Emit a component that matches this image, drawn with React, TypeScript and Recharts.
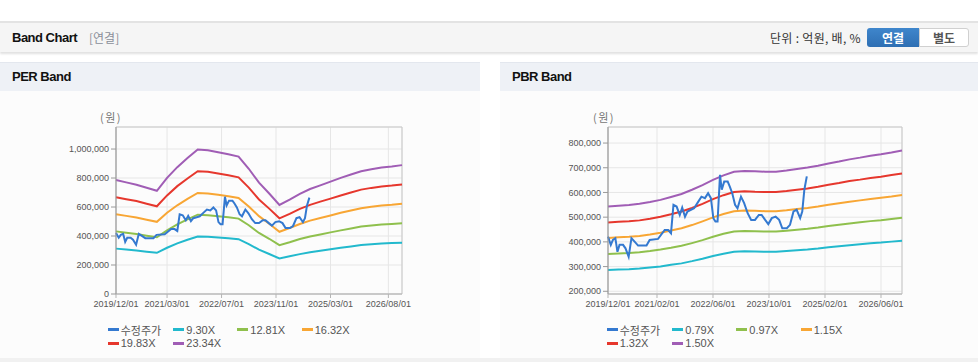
import React from 'react';
import { LineChart, Line, XAxis, YAxis, CartesianGrid, ReferenceArea } from 'recharts';

// ---- shared x positions (month index from 2019/12) ----
const bandIdx = [0, 3, 6, 9, 12, 15, 18, 21, 24, 27, 30, 33, 36, 39, 42, 45, 48, 51, 54, 57, 60, 63, 66, 69, 72, 75, 78, 81, 84];

// ---- 수정주가 (adjusted price) ----
const priceIdx = [0, 0.8, 1.4, 2.1, 2.7, 3.3, 4.3, 5, 5.9, 6.7, 7.6, 8.6, 11, 11.9, 14.3, 16.2, 17.2, 18, 18.7, 19.6, 20.5, 21.2, 22, 22.7, 23.7, 24.6, 25.8, 26.7, 27.7, 28.6, 29.4, 30.1, 30.7, 31.3, 32, 32.5, 33.2, 34.2, 34.8, 35.5, 36.3, 37, 38, 38.9, 39.9, 40.9, 42, 43.1, 43.9, 44.9, 45.8, 46.8, 47.9, 48.9, 49.8, 51.1, 52, 53, 53.9, 54.9, 55.5, 56.1, 56.8];
const priceVal = [421000, 388000, 408000, 415000, 360000, 388000, 388000, 374000, 340000, 415000, 401000, 385000, 385000, 408000, 412000, 448000, 448000, 435000, 550000, 543000, 509000, 539000, 502000, 523000, 530000, 536000, 563000, 583000, 577000, 597000, 577000, 496000, 482000, 482000, 671000, 611000, 644000, 644000, 624000, 597000, 550000, 536000, 583000, 557000, 516000, 489000, 489000, 509000, 509000, 489000, 472000, 496000, 502000, 489000, 455000, 455000, 469000, 523000, 530000, 496000, 523000, 611000, 665000];

// ---- PER bands ----
const per930 = [313000, 307000, 300000, 292000, 284000, 319000, 349000, 374000, 397000, 395000, 390000, 384000, 378000, 344000, 306000, 276000, 245000, 260000, 275000, 288000, 299000, 309000, 319000, 328000, 338000, 343000, 348000, 351000, 354000];
const per1281 = [432000, 423000, 414000, 402000, 391000, 439000, 480000, 515000, 547000, 544000, 537000, 529000, 520000, 474000, 421000, 381000, 337000, 357000, 379000, 397000, 411000, 425000, 439000, 452000, 465000, 473000, 479000, 483000, 488000];
const per1632 = [550000, 539000, 527000, 512000, 498000, 560000, 612000, 656000, 697000, 694000, 684000, 674000, 663000, 604000, 537000, 485000, 429000, 455000, 483000, 506000, 524000, 542000, 560000, 576000, 592000, 602000, 610000, 615000, 622000];
const per1983 = [668000, 654000, 641000, 623000, 605000, 680000, 744000, 797000, 847000, 843000, 831000, 819000, 805000, 734000, 652000, 589000, 522000, 553000, 587000, 615000, 637000, 658000, 680000, 700000, 720000, 732000, 742000, 748000, 756000];
const per2334 = [787000, 770000, 754000, 733000, 712000, 801000, 875000, 938000, 997000, 992000, 978000, 964000, 948000, 864000, 768000, 693000, 614000, 651000, 691000, 724000, 749000, 775000, 801000, 824000, 847000, 861000, 873000, 880000, 889000];

// ---- PBR bands ----
const pbr079 = [286000, 288000, 289000, 292000, 296000, 300000, 307000, 313000, 322000, 332000, 343000, 352000, 360000, 362000, 361000, 360000, 360000, 363000, 366000, 369000, 373000, 378000, 382000, 386000, 390000, 394000, 397000, 401000, 405000];
const pbr097 = [351000, 353000, 355000, 358000, 363000, 369000, 376000, 384000, 395000, 407000, 421000, 433000, 442000, 444000, 443000, 442000, 442000, 445000, 449000, 453000, 458000, 464000, 469000, 474000, 479000, 484000, 488000, 493000, 498000];
const pbr115 = [416000, 419000, 421000, 424000, 430000, 437000, 446000, 455000, 468000, 483000, 499000, 513000, 524000, 527000, 526000, 524000, 524000, 528000, 533000, 537000, 543000, 550000, 556000, 562000, 568000, 574000, 579000, 584000, 590000];
const pbr132 = [478000, 481000, 483000, 487000, 494000, 502000, 512000, 523000, 537000, 554000, 573000, 589000, 602000, 605000, 603000, 602000, 602000, 606000, 611000, 616000, 623000, 631000, 638000, 646000, 652000, 659000, 664000, 671000, 677000];
const pbr150 = [543000, 546000, 549000, 554000, 561000, 570000, 582000, 594000, 611000, 630000, 651000, 669000, 684000, 687000, 686000, 684000, 684000, 689000, 695000, 701000, 708000, 717000, 725000, 734000, 741000, 749000, 755000, 762000, 770000];

// ---- labels & ticks ----
const perLabels = ['9.30X', '12.81X', '16.32X', '19.83X', '23.34X'];
const pbrLabels = ['0.79X', '0.97X', '1.15X', '1.32X', '1.50X'];
const perTickIdx = [0, 15, 31, 47, 63, 80];
const perTickLabels = ['2019/12/01', '2021/03/01', '2022/07/01', '2023/11/01', '2025/03/01', '2026/08/01'];
const pbrTickIdx = [0, 14, 30, 46, 62, 78];
const pbrTickLabels = ['2019/12/01', '2021/02/01', '2022/06/01', '2023/10/01', '2025/02/01', '2026/06/01'];
const perYTicks = [0, 200000, 400000, 600000, 800000, 1000000];
const pbrYTicks = [200000, 300000, 400000, 500000, 600000, 700000, 800000];

const priceColor = '#3479d0';
const bandColors = ['#22b9cd', '#8fc04d', '#f8a634', '#e6372d', '#a05db5'];
const bandKeys = ['b1', 'b2', 'b3', 'b4', 'b5'];

const LATIN = '"Liberation Sans", Arial, sans-serif';
const KR = '"Noto Sans CJK KR", "Liberation Sans", sans-serif';

function buildRows(bands: number[][]) {
  const map = new Map<number, any>();
  const get = (x: number) => {
    if (!map.has(x)) map.set(x, { x });
    return map.get(x);
  };
  bandIdx.forEach((x, i) => {
    const r = get(x);
    bandKeys.forEach((k, j) => {
      r[k] = bands[j][i];
    });
  });
  priceIdx.forEach((x, i) => {
    get(x).price = priceVal[i];
  });
  return Array.from(map.values()).sort((a, b) => a.x - b.x);
}

const perRows = buildRows([per930, per1281, per1632, per1983, per2334]);
const pbrRows = buildRows([pbr079, pbr097, pbr115, pbr132, pbr150]);

const fmt = (v: number) => v.toLocaleString('en-US');

function BandChart(props: {
  rows: any[];
  left: number;
  width: number;
  marginLeft: number;
  marginRight: number;
  yDomain: [number, number];
  yTicks: number[];
  xTicks: number[];
  xLabels: string[];
}) {
  const { rows, left, width, marginLeft, marginRight, yDomain, yTicks, xTicks, xLabels } = props;
  return (
    <div style={{ position: 'absolute', left, top: 91 }}>
      <LineChart
        width={width}
        height={240}
        data={rows}
        margin={{ top: 36, right: marginRight, bottom: 7, left: marginLeft }}
      >
        <CartesianGrid stroke="#e6e6e6" strokeWidth={1} />
        <ReferenceArea x1={0} x2={84} y1={yDomain[0]} y2={yDomain[1]} fill="none" stroke="#c9c9c9" strokeWidth={1} />
        <XAxis
          dataKey="x"
          type="number"
          domain={[0, 84]}
          ticks={xTicks}
          tickFormatter={(v: number) => xLabels[xTicks.indexOf(v)] ?? ''}
          interval={0}
          height={30}
          tickSize={4}
          tickMargin={3}
          axisLine={{ stroke: '#b5b5b5' }}
          tickLine={{ stroke: '#b5b5b5' }}
          tick={{ fontSize: 9, fill: '#555', fontFamily: LATIN }}
        />
        <YAxis
          type="number"
          domain={yDomain}
          ticks={yTicks}
          allowDataOverflow
          width={60}
          tickSize={5}
          tickMargin={2}
          tickFormatter={fmt}
          axisLine={{ stroke: '#999' }}
          tickLine={{ stroke: '#999' }}
          tick={{ fontSize: 9, fill: '#555', fontFamily: LATIN }}
        />
        {bandKeys.map((k, i) => (
          <Line
            key={k}
            dataKey={k}
            type="linear"
            stroke={bandColors[i]}
            strokeWidth={2}
            dot={false}
            activeDot={false}
            connectNulls
            isAnimationActive={false}
          />
        ))}
        <Line
          dataKey="price"
          type="linear"
          stroke={priceColor}
          strokeWidth={2}
          dot={false}
          activeDot={false}
          connectNulls
          isAnimationActive={false}
        />
      </LineChart>
    </div>
  );
}

function LegendItem({ x, y, color, label, kr }: { x: number; y: number; color: string; label: string; kr?: boolean }) {
  return (
    <div style={{ position: 'absolute', left: x, top: y - 8, height: 16, display: 'flex', alignItems: 'center', whiteSpace: 'nowrap' }}>
      <span style={{ display: 'inline-block', width: 11, height: 3, background: color, marginRight: 2 }} />
      <span style={{ fontSize: 11, color: '#555', fontFamily: kr ? KR : LATIN, lineHeight: '16px' }}>{label}</span>
    </div>
  );
}

function Legend({ x0, labels }: { x0: number; labels: string[] }) {
  const cols = [0, 65.6, 129.6, 194];
  const items = [{ label: '수정주가', color: priceColor, kr: true }].concat(
    labels.map((l, i) => ({ label: l, color: bandColors[i], kr: false }))
  );
  return (
    <>
      {items.map((it, i) => {
        const row = i < 4 ? 0 : 1;
        const col = i < 4 ? i : i - 4;
        return (
          <LegendItem key={i} x={x0 + cols[col]} y={row === 0 ? 329.5 : 343} color={it.color} label={it.label} kr={it.kr} />
        );
      })}
    </>
  );
}

function PanelHeader({ left, width, title }: { left: number; width: number; title: string }) {
  return (
    <>
      <div
        style={{
          position: 'absolute',
          left,
          top: 62,
          width,
          height: 29,
          background: '#eef1f6',
          borderTop: '1px solid #e3e7ee',
          boxSizing: 'border-box',
        }}
      />
      <div
        style={{
          position: 'absolute',
          left,
          top: 91,
          width,
          height: 267,
          background: '#fcfcfc',
        }}
      />
      <div
        style={{
          position: 'absolute',
          left: left + 12,
          top: 69,
          fontSize: 13,
          fontWeight: 700,
          letterSpacing: -0.5,
          color: '#111',
          fontFamily: LATIN,
          lineHeight: '16px',
        }}
      >
        {title}
      </div>
    </>
  );
}

export default function App() {
  return (
    <div style={{ position: 'relative', width: 978, height: 362, background: '#fff', overflow: 'hidden', fontFamily: LATIN }}>
      <style>{'body{margin:0;}'}</style>
      {/* top bar */}
      <div
        style={{
          position: 'absolute',
          left: 0,
          top: 21,
          width: 978,
          height: 31,
          background: '#f5f5f5',
          borderTop: '2px solid #e3e3e3',
          boxSizing: 'border-box',
          boxShadow: '0 2px 2px rgba(0,0,0,0.12)',
        }}
      />
      <div style={{ position: 'absolute', left: 12, top: 30, fontSize: 13, fontWeight: 700, letterSpacing: -0.5, color: '#111', lineHeight: '16px' }}>
        Band Chart
      </div>
      <div style={{ position: 'absolute', left: 89, top: 30, fontSize: 12, color: '#8a8f99', fontFamily: KR, lineHeight: '16px' }}>
        [연결]
      </div>
      <div style={{ position: 'absolute', left: 770, top: 29, fontSize: 12, color: '#333', fontFamily: KR, lineHeight: '17px', whiteSpace: 'nowrap', letterSpacing: 0.3 }}>
        단위 : 억원, 배, %
      </div>
      <div
        style={{
          position: 'absolute',
          left: 867,
          top: 28,
          width: 52,
          height: 19,
          background: 'linear-gradient(#3f86cc, #2e6fb3)',
          borderRadius: '3px 0 0 3px',
          color: '#fff',
          fontSize: 12,
          fontWeight: 700,
          fontFamily: KR,
          textAlign: 'center',
          lineHeight: '19px',
        }}
      >
        연결
      </div>
      <div
        style={{
          position: 'absolute',
          left: 919,
          top: 28,
          width: 50,
          height: 19,
          background: '#fff',
          border: '1px solid #d0d0d0',
          boxSizing: 'border-box',
          borderRadius: '0 3px 3px 0',
          color: '#555',
          fontSize: 12,
          fontWeight: 700,
          fontFamily: KR,
          textAlign: 'center',
          lineHeight: '17px',
        }}
      >
        별도
      </div>

      <PanelHeader left={0} width={480} title="PER Band" />
      <PanelHeader left={500} width={478} title="PBR Band" />
      <div style={{ position: 'absolute', left: 0, top: 358, width: 978, height: 4, background: '#f1f1f1' }} />

      <div style={{ position: 'absolute', left: 100, top: 109, fontSize: 11, color: '#777', fontFamily: KR, lineHeight: '16px', letterSpacing: 1.5 }}>(원)</div>
      <div style={{ position: 'absolute', left: 593, top: 109, fontSize: 11, color: '#777', fontFamily: KR, lineHeight: '16px', letterSpacing: 1.5 }}>(원)</div>

      <BandChart
        rows={perRows}
        left={0}
        width={480}
        marginLeft={56}
        marginRight={78}
        yDomain={[0, 1152000]}
        yTicks={perYTicks}
        xTicks={perTickIdx}
        xLabels={perTickLabels}
      />
      <BandChart
        rows={pbrRows}
        left={500}
        width={478}
        marginLeft={48}
        marginRight={76}
        yDomain={[189000, 865000]}
        yTicks={pbrYTicks}
        xTicks={pbrTickIdx}
        xLabels={pbrTickLabels}
      />

      <Legend x0={107.7} labels={perLabels} />
      <Legend x0={606.7} labels={pbrLabels} />
    </div>
  );
}
